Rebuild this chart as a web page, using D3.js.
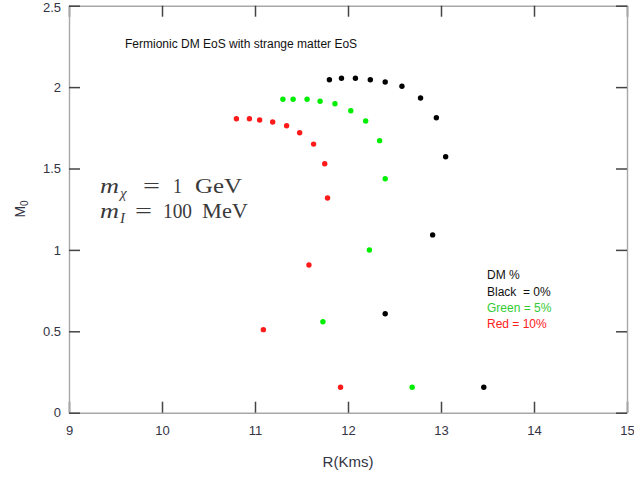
<!DOCTYPE html>
<html>
<head>
<meta charset="utf-8">
<script src="https://cdn.jsdelivr.net/npm/d3@7"></script>
<style>
  html, body { margin: 0; padding: 0; background: #fff; }
  svg { display: block; }
</style>
</head>
<body>
<svg id="chart" width="634" height="477"></svg>
<script>
// ---- data ----
const xTicks = [9, 10, 11, 12, 13, 14, 15];
const yTicks = [0, 0.5, 1, 1.5, 2, 2.5];
const yTickLabels = ["0", "0.5", "1", "1.5", "2", "2.5"];

const blackR = [11.80, 11.93, 12.08, 12.24, 12.40, 12.58, 12.78, 12.95, 13.05, 12.91, 12.40, 13.46];
const blackM = [2.045, 2.054, 2.054, 2.045, 2.031, 2.005, 1.933, 1.812, 1.572, 1.092, 0.608, 0.156];

const greenR = [11.30, 11.41, 11.56, 11.70, 11.86, 12.03, 12.19, 12.34, 12.40, 12.23, 11.73, 12.69];
const greenM = [1.925, 1.925, 1.925, 1.913, 1.898, 1.855, 1.792, 1.671, 1.437, 0.999, 0.559, 0.156];

const redR = [10.80, 10.94, 11.05, 11.19, 11.34, 11.48, 11.63, 11.75, 11.78, 11.58, 11.09, 11.92];
const redM = [1.806, 1.806, 1.798, 1.786, 1.763, 1.720, 1.650, 1.529, 1.319, 0.907, 0.510, 0.156];

const seriesNames = ["Black", "Green", "Red"];
const seriesColors = ["#000000", "#00ee00", "#ff1a1a"];
const legendTitle = "DM %";
const legendLines = ["Black  = 0%", "Green = 5%", "Red = 10%"];
const legendColors = ["#111111", "#33cc33", "#ff2020"];

const titleText = "Fermionic DM EoS with strange matter EoS";
const xLabel = "R(Kms)";

// ---- layout ----
const svg = d3.select("#chart");
const pL = 69, pR = 627, pT = 5.7, pB = 412.7;

const x = d3.scaleLinear().domain([9, 15]).range([pL, pR]);
const y = d3.scaleLinear().domain([0, 2.5]).range([pB, pT]);

svg.append("rect").attr("width", 634).attr("height", 477).attr("fill", "#fff");

function styleAxis(g) {
  g.attr("font-family", null).attr("font-size", null);
  g.select(".domain").attr("stroke", "#a8a8a8").attr("stroke-width", 1.4);
  g.selectAll(".tick line").attr("stroke", "#444").attr("stroke-width", 1.5);
  g.selectAll(".tick text")
    .attr("fill", "#333344")
    .style("font-family", "'Liberation Sans', Arial, sans-serif")
    .style("font-size", "13px");
}

// bottom
svg.append("g").attr("transform", `translate(0,${pB})`)
  .call(d3.axisBottom(x).tickValues(xTicks).tickFormat(d3.format("d")).tickSize(-11).tickSizeOuter(0).tickPadding(13))
  .call(styleAxis);
// top
svg.append("g").attr("transform", `translate(0,${pT})`)
  .call(d3.axisTop(x).tickValues(xTicks).tickFormat("").tickSize(-11).tickSizeOuter(0))
  .call(styleAxis);
// left
const gy = svg.append("g").attr("transform", `translate(${pL},0)`)
  .call(d3.axisLeft(y).tickValues(yTicks).tickFormat((d, i) => yTickLabels[i]).tickSize(-11).tickSizeOuter(0).tickPadding(8))
  .call(styleAxis);
gy.selectAll(".tick text").filter(d => d === 2.5).attr("dy", "0.45em");
// right
svg.append("g").attr("transform", `translate(${pR},0)`)
  .call(d3.axisRight(y).tickValues(yTicks).tickFormat("").tickSize(-11).tickSizeOuter(0))
  .call(styleAxis);

// axis labels
svg.append("text")
  .attr("x", x(12)).attr("y", 467)
  .attr("text-anchor", "middle")
  .attr("fill", "#333344")
  .style("font-family", "'Liberation Sans', Arial, sans-serif")
  .style("font-size", "15px")
  .text(xLabel);

const yl = svg.append("text")
  .attr("transform", "translate(25,209) rotate(-90)")
  .attr("text-anchor", "middle")
  .attr("fill", "#333344")
  .style("font-family", "'Liberation Sans', Arial, sans-serif")
  .style("font-size", "14px");
yl.append("tspan").text("M");
yl.append("tspan").attr("dy", 3).style("font-size", "10px").text("0");

// title
svg.append("text")
  .attr("x", 125).attr("y", 48)
  .attr("fill", "#111")
  .style("font-family", "'Liberation Sans', Arial, sans-serif")
  .style("font-size", "12px")
  .text(titleText);

// math annotation
const mathFont = "'Liberation Serif', 'DejaVu Serif', serif";
function mathLine(yb, sub, parts) {
  const t = svg.append("text").attr("y", yb)
    .attr("fill", "#3a3a3a").style("font-family", mathFont).style("font-size", "22px");
  t.append("tspan").attr("x", 100).attr("y", yb).style("font-style", "italic")
    .attr("textLength", 19).attr("lengthAdjust", "spacingAndGlyphs").text("m");
  t.append("tspan").attr("x", 120).attr("y", yb + 5).style("font-style", "italic").style("font-size", "15px").text(sub);
  parts.forEach(p => {
    t.append("tspan").attr("x", p[0]).attr("y", yb)
      .attr("textLength", p[2]).attr("lengthAdjust", "spacingAndGlyphs").text(p[1]);
  });
}
mathLine(193, "χ", [[143, "=", 17], [173, "1", 9], [195, "GeV", 47]]);
mathLine(218, "I", [[135, "=", 17], [163, "100", 29], [202, "MeV", 46]]);

// points
const series = [
  { R: blackR, M: blackM },
  { R: greenR, M: greenM },
  { R: redR, M: redM }
];
series.forEach((s, i) => {
  svg.append("g").attr("class", "series-" + seriesNames[i])
    .selectAll("circle")
    .data(s.R.map((r, j) => [r, s.M[j]]))
    .join("circle")
    .attr("cx", d => x(d[0]))
    .attr("cy", d => y(d[1]))
    .attr("r", 2.7)
    .attr("fill", seriesColors[i]);
});

// legend
const lg = svg.append("g")
  .style("font-family", "'Liberation Sans', Arial, sans-serif")
  .style("font-size", "12px");
lg.append("text").attr("x", 487).attr("y", 279).attr("fill", "#111").text(legendTitle);
legendLines.forEach((t, i) => {
  lg.append("text").attr("x", 487).attr("y", 295.5 + i * 16)
    .attr("fill", legendColors[i])
    .style("white-space", "pre")
    .text(t);
});
</script>
</body>
</html>
